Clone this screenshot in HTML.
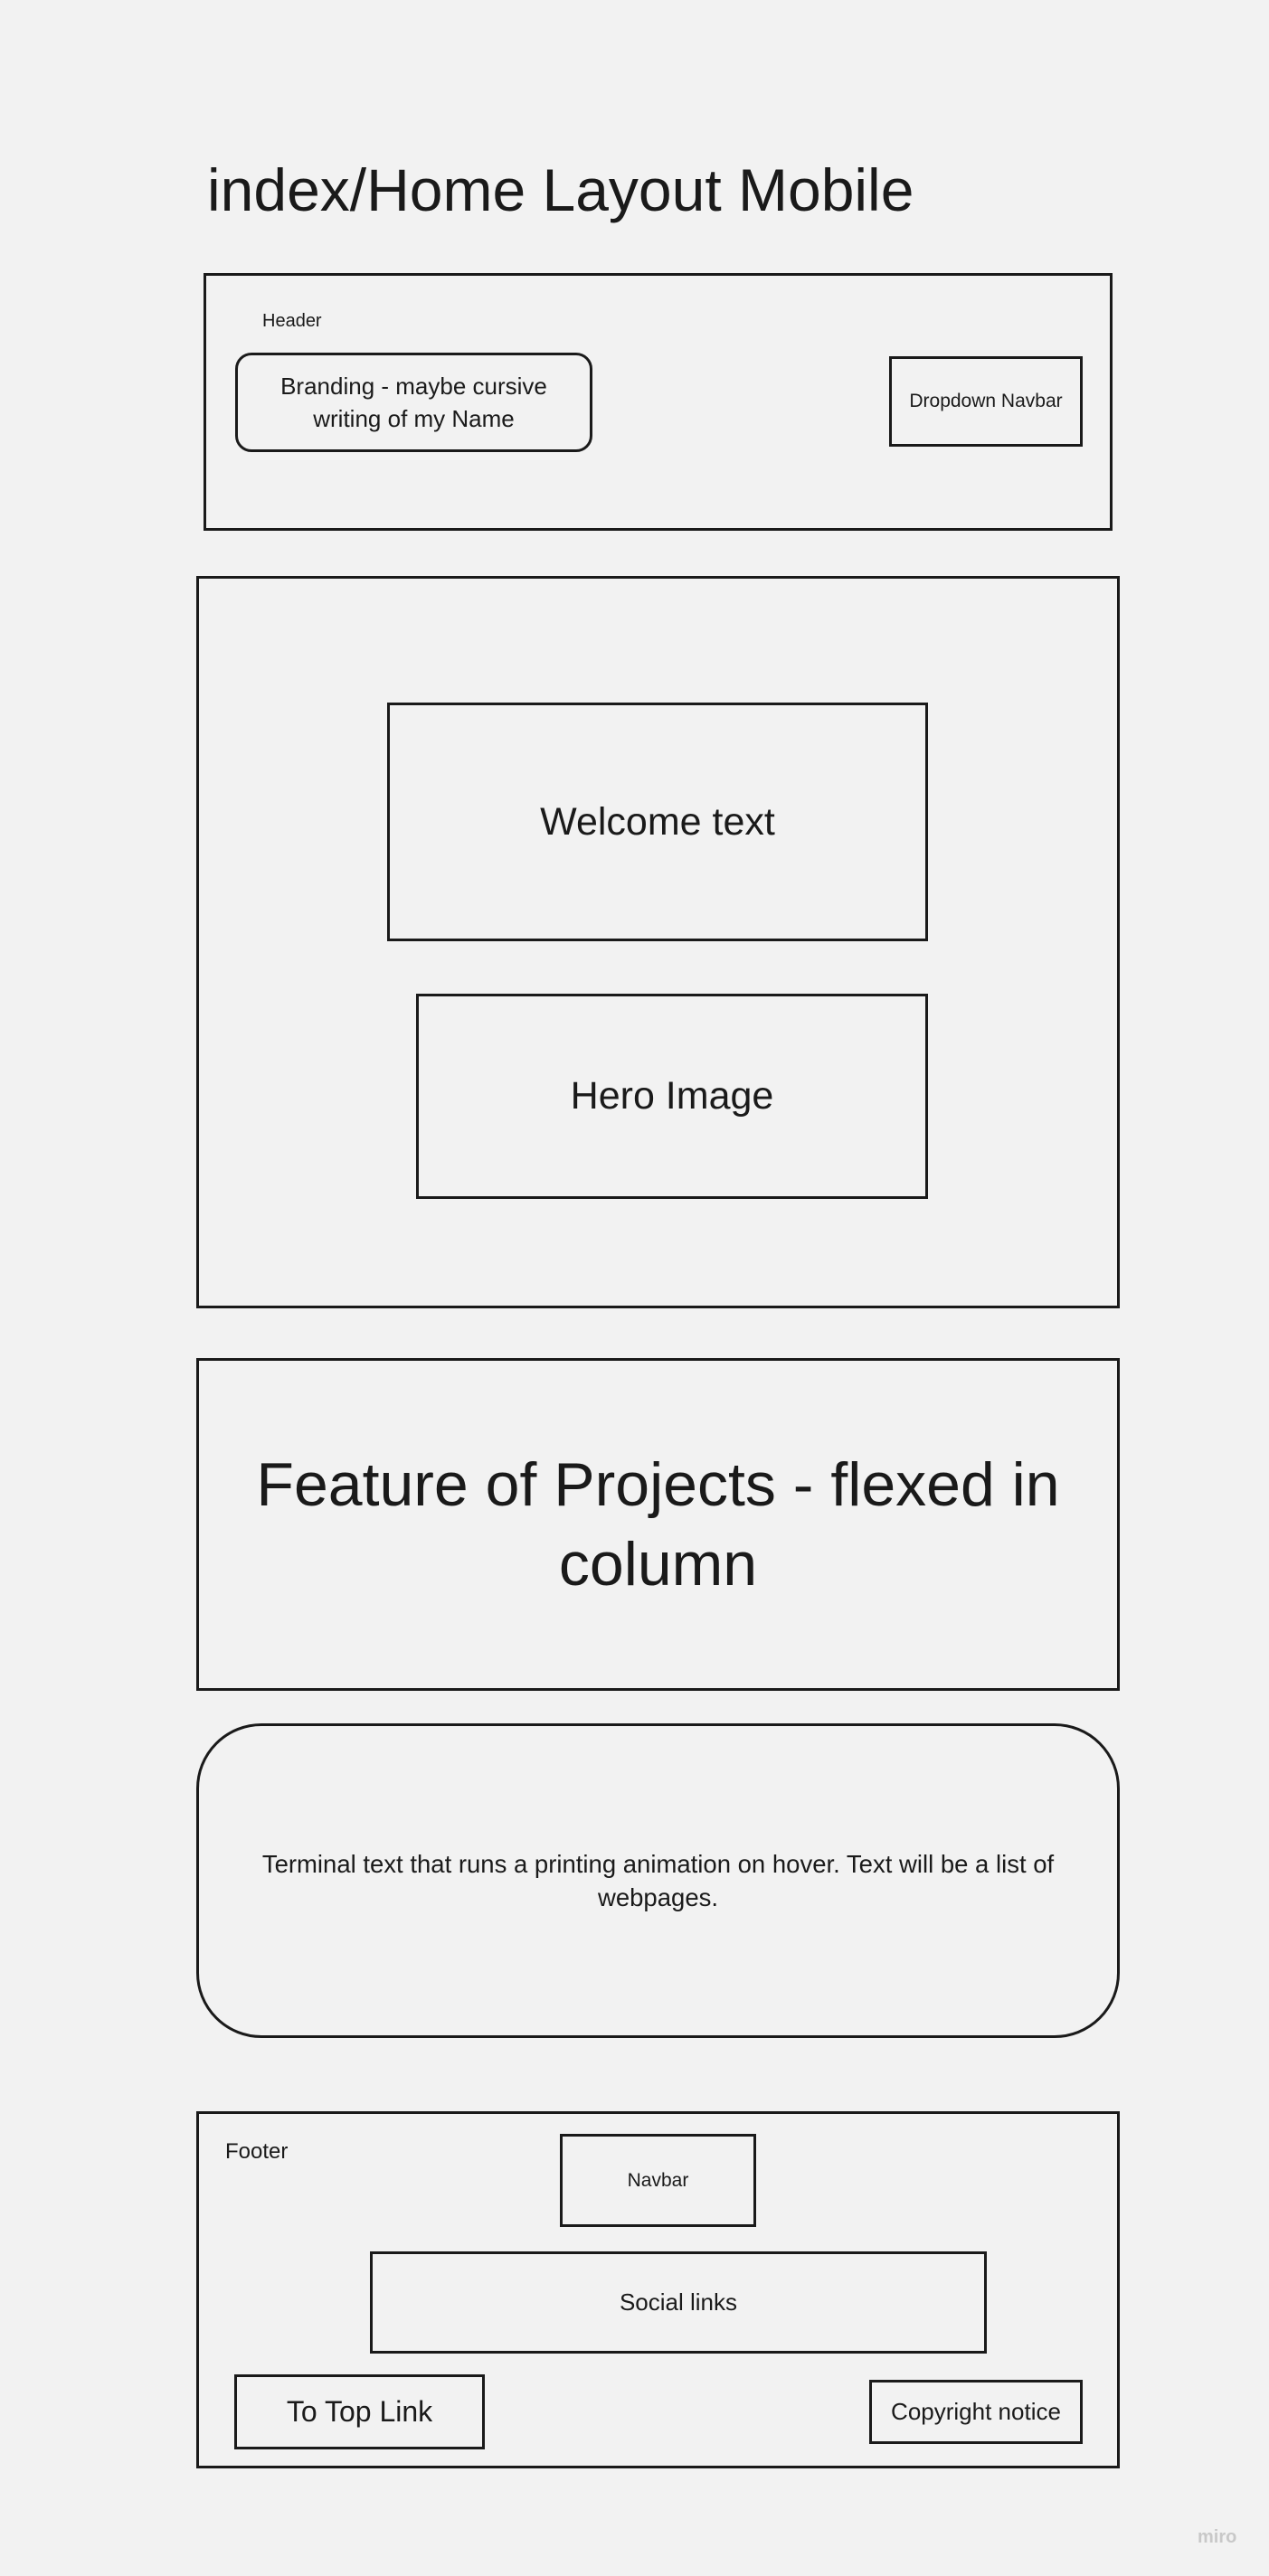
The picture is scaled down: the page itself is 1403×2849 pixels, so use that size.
<!DOCTYPE html>
<html><head><meta charset="utf-8"><style>
html,body{margin:0;padding:0;}
body{width:1403px;height:2849px;background:#f2f2f2;position:relative;overflow:hidden;font-family:"Liberation Sans",sans-serif;color:#1a1a1a;}
.b{position:absolute;border:3px solid #1a1a1a;box-sizing:border-box;display:flex;align-items:center;justify-content:center;text-align:center;}
.t{position:absolute;white-space:nowrap;}
</style></head><body>
<div class="t" style="left:229px;top:172px;font-size:66px;line-height:76px;">index/Home Layout Mobile</div>

<div class="b" style="left:225px;top:302px;width:1005px;height:285px;"></div>
<div class="t" style="left:290px;top:344px;font-size:20px;">Header</div>
<div class="b" style="left:260px;top:390px;width:395px;height:110px;border-radius:18px;font-size:26px;line-height:36px;">Branding - maybe cursive<br>writing of my Name</div>
<div class="b" style="left:983px;top:394px;width:214px;height:100px;font-size:21px;">Dropdown Navbar</div>

<div class="b" style="left:217px;top:637px;width:1021px;height:810px;"></div>
<div class="b" style="left:428px;top:777px;width:598px;height:264px;font-size:43px;">Welcome text</div>
<div class="b" style="left:460px;top:1099px;width:566px;height:227px;font-size:43px;">Hero Image</div>

<div class="b" style="left:217px;top:1502px;width:1021px;height:368px;font-size:68px;line-height:88px;">Feature of Projects - flexed in<br>column</div>

<div class="b" style="left:217px;top:1906px;width:1021px;height:348px;border-radius:72px;font-size:27.5px;line-height:37px;">Terminal text that runs a printing animation on hover. Text will be a list of<br>webpages.</div>

<div class="b" style="left:217px;top:2335px;width:1021px;height:395px;"></div>
<div class="t" style="left:249px;top:2366px;font-size:24px;">Footer</div>
<div class="b" style="left:619px;top:2360px;width:217px;height:103px;font-size:21px;">Navbar</div>
<div class="b" style="left:409px;top:2490px;width:682px;height:113px;font-size:26px;">Social links</div>
<div class="b" style="left:259px;top:2626px;width:277px;height:83px;font-size:32px;">To Top Link</div>
<div class="b" style="left:961px;top:2632px;width:236px;height:71px;font-size:26px;">Copyright notice</div>

<div class="t" style="left:1324px;top:2795px;font-size:20px;color:#c8c8c8;font-weight:bold;">miro</div>
</body></html>
